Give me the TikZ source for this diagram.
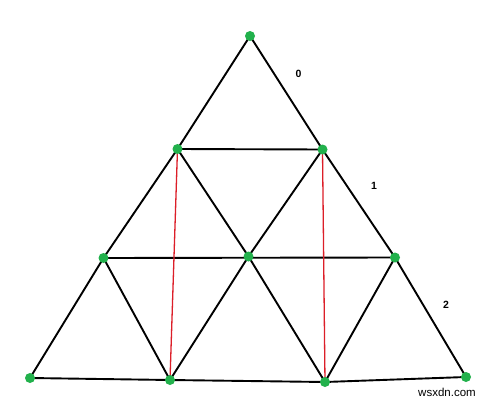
\documentclass[tikz,border=0pt]{standalone}
\usepackage{fontspec}
\setmainfont{Liberation Sans}
\begin{document}
\begin{tikzpicture}[x=1pt,y=-1pt,
  edge/.style={draw=black,line width=1.9pt},
  redge/.style={draw=paintred,line width=1.3pt},
  pt/.style={circle,fill=paintgreen,inner sep=0pt,minimum size=10pt},
  lbl/.style={font=\bfseries\fontsize{10.5}{12}\selectfont,inner sep=0pt},
  wm/.style={font=\fontsize{11.5}{13}\selectfont,inner sep=0pt}]
\definecolor{paintgreen}{RGB}{34,177,76}
\definecolor{paintred}{RGB}{220,30,40}
\useasboundingbox (0,0) rectangle (491,402);
\fill[white] (0,0) rectangle (491,402);
\coordinate (t) at (250,36);
\coordinate (a) at (177.5,149);
\coordinate (b) at (322.5,149.5);
\coordinate (c) at (103.5,258);
\coordinate (d) at (248.5,256.5);
\coordinate (e) at (395,257.5);
\coordinate (f) at (30,378);
\coordinate (g) at (170,380);
\coordinate (h) at (325,382);
\coordinate (i) at (466,377);
% black edges
\draw[edge] (t) -- (a) -- (c) -- (f) -- (g) -- (h) -- (i) -- (e) -- (b) -- (t);
\draw[edge] (a) -- (b);
\draw[edge] (c) -- (e);
\draw[edge] (a) -- (d) -- (b);
\draw[edge] (c) -- (g) -- (d) -- (h) -- (e);
% red edges
\draw[redge] (a) -- (g);
\draw[redge] (b) -- (h);
% dots
\foreach \p in {t,a,b,c,d,e,f,g,h,i} \node[pt] (n\p) at (\p) {};
% labels
\node[lbl] (l0) at (298.5,74) {0};
\node[lbl] (l1) at (374,186) {1};
\node[lbl] (l2) at (446,305) {2};
\node[wm] (w) at (447,392) {wsxdn.com};
\end{tikzpicture}
\end{document}
